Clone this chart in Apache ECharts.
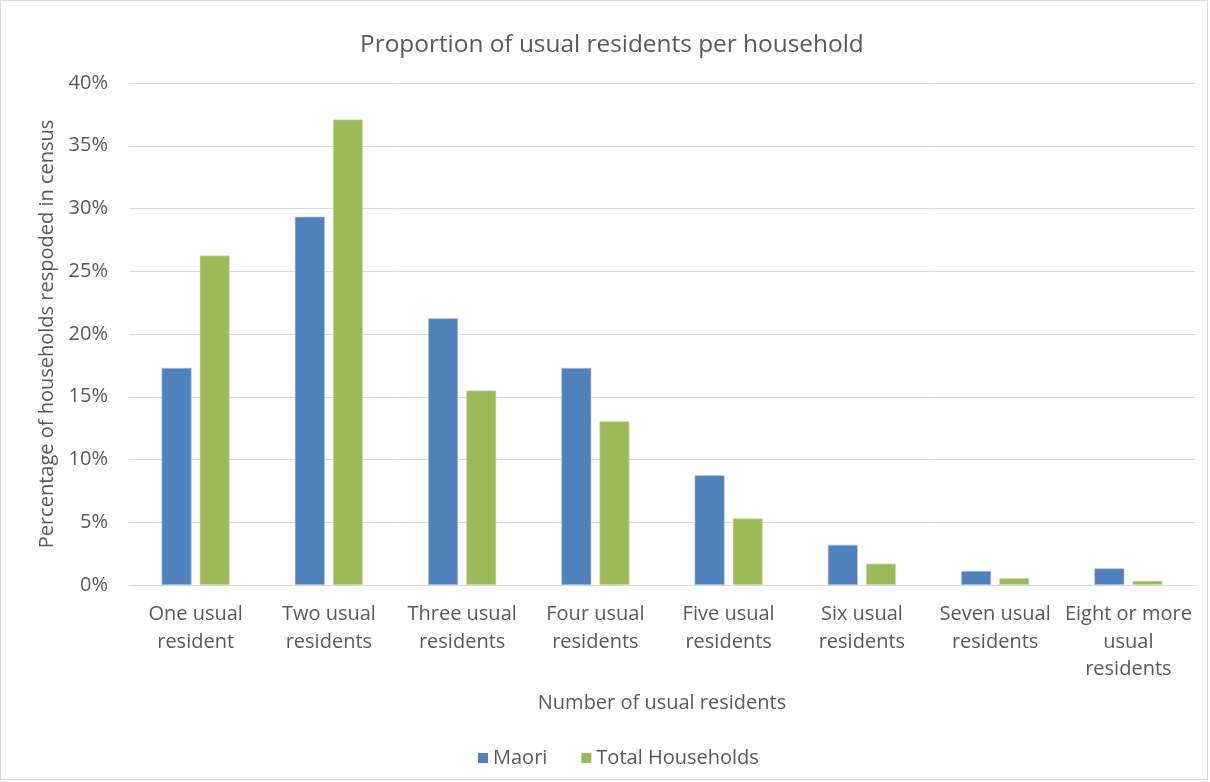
<!DOCTYPE html>
<html>
<head>
<meta charset="utf-8">
<script src="https://cdn.jsdelivr.net/npm/echarts@6/dist/echarts.min.js"></script>
<style>
  html, body { margin: 0; padding: 0; background: #fff; }
  #frame { position: absolute; left: 0; top: 0; width: 1206px; height: 778px; border: 1px solid #d9d9d9; }
  #chart { width: 1206px; height: 778px; }
</style>
</head>
<body>
<div id="frame"><div id="chart"></div></div>
<script>
// Household size categories
const categories = [
  'One usual\nresident',
  'Two usual\nresidents',
  'Three usual\nresidents',
  'Four usual\nresidents',
  'Five usual\nresidents',
  'Six usual\nresidents',
  'Seven usual\nresidents',
  'Eight or more\nusual\nresidents'
];

// Share of households (%)
const maori = [17.3, 29.35, 21.25, 17.3, 8.75, 3.2, 1.12, 1.33];
const totalHouseholds = [26.25, 37.1, 15.5, 13.05, 5.3, 1.7, 0.55, 0.33];

const textColor = '#595959';
const fontFamily = '"Open Sans", "Noto Sans", sans-serif';

const chart = echarts.init(document.getElementById('chart'));
chart.setOption({
  animation: false,
  textStyle: { fontFamily: fontFamily, color: textColor },
  title: {
    text: 'Proportion of usual residents per household',
    left: 354,
    top: 27,
    textStyle: { fontSize: 24.4, fontWeight: 'normal', color: textColor, fontFamily: fontFamily }
  },
  legend: {
    bottom: 6,
    left: 472,
    itemWidth: 10,
    itemHeight: 10,
    itemGap: 34,
    icon: 'rect',
    itemStyle: { borderWidth: 0 },
    textStyle: { fontSize: 20, color: textColor, fontFamily: fontFamily },
    data: ['Maori', 'Total Households']
  },
  grid: { left: 128, right: 12, top: 82, bottom: 194, containLabel: false },
  xAxis: {
    type: 'category',
    data: categories,
    name: 'Number of usual residents',
    nameLocation: 'middle',
    nameGap: 108,
    nameTextStyle: { fontSize: 20, color: textColor, fontFamily: fontFamily },
    axisLine: { lineStyle: { color: '#d9d9d9', width: 1 } },
    axisTick: { show: false },
    axisLabel: { fontSize: 20, color: textColor, lineHeight: 27.5, margin: 16, interval: 0, fontFamily: fontFamily }
  },
  yAxis: {
    type: 'value',
    min: 0,
    max: 40,
    interval: 5,
    name: 'Percentage of households respoded in census',
    nameLocation: 'middle',
    nameGap: 72,
    nameTextStyle: { fontSize: 20, color: textColor, fontFamily: fontFamily },
    axisLine: { show: false },
    axisTick: { show: false },
    axisLabel: { fontSize: 20, color: textColor, margin: 21, formatter: '{value}%', fontFamily: fontFamily },
    splitLine: { lineStyle: { color: '#d9d9d9', width: 1 } }
  },
  series: [
    {
      name: 'Maori',
      type: 'bar',
      data: maori,
      barWidth: 30,
      barGap: '27%',
      itemStyle: { color: '#4f81bd', borderColor: '#b9cde5', borderWidth: 0.6 }
    },
    {
      name: 'Total Households',
      type: 'bar',
      data: totalHouseholds,
      barWidth: 30,
      itemStyle: { color: '#9bbb59', borderColor: '#d7e4bd', borderWidth: 0.6 }
    }
  ]
});
</script>
</body>
</html>
